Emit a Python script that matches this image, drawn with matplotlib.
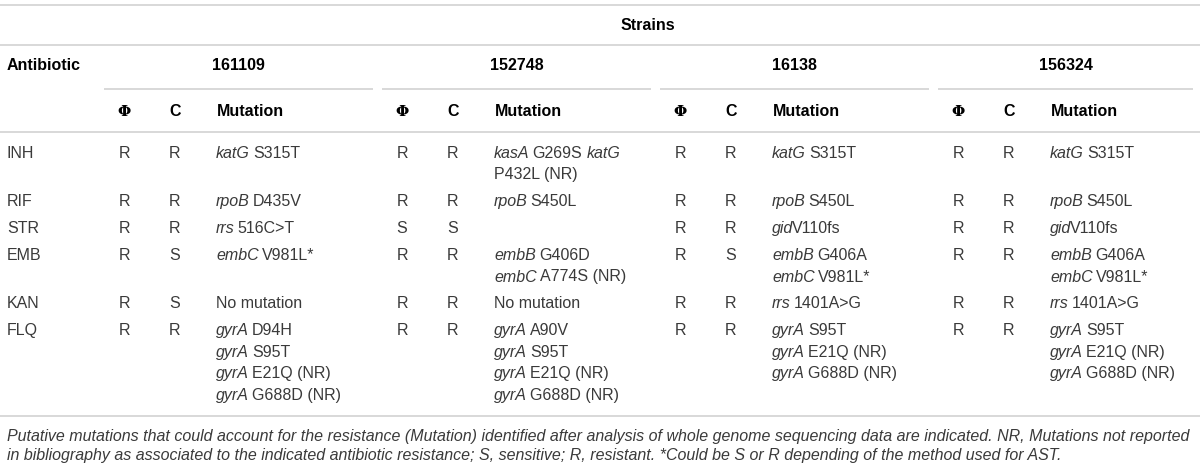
import matplotlib.pyplot as plt

# 표 데이터
antibiotics = ["INH", "RIF", "STR", "EMB", "KAN", "FLQ"]
strains = ["161109", "152748", "16138", "156324"]

phi = {
    "161109": ["R", "R", "R", "R", "R", "R"],
    "152748": ["R", "R", "S", "R", "R", "R"],
    "16138": ["R", "R", "R", "R", "R", "R"],
    "156324": ["R", "R", "R", "R", "R", "R"],
}
conv = {
    "161109": ["R", "R", "R", "S", "S", "R"],
    "152748": ["R", "R", "S", "R", "R", "R"],
    "16138": ["R", "R", "R", "S", "R", "R"],
    "156324": ["R", "R", "R", "R", "R", "R"],
}
# _..._ = 이탤릭 (유전자명)
mutations = {
    "161109": [["_katG_ S315T"], ["_rpoB_ D435V"], ["_rrs_ 516C>T"], ["_embC_ V981L*"],
               ["No mutation"],
               ["_gyrA_ D94H", "_gyrA_ S95T", "_gyrA_ E21Q (NR)", "_gyrA_ G688D (NR)"]],
    "152748": [["_kasA_ G269S _katG_", "P432L (NR)"], ["_rpoB_ S450L"], [""],
               ["_embB_ G406D", "_embC_ A774S (NR)"], ["No mutation"],
               ["_gyrA_ A90V", "_gyrA_ S95T", "_gyrA_ E21Q (NR)", "_gyrA_ G688D (NR)"]],
    "16138": [["_katG_ S315T"], ["_rpoB_ S450L"], ["_gid_V110fs"],
              ["_embB_ G406A", "_embC_ V981L*"], ["_rrs_ 1401A>G"],
              ["_gyrA_ S95T", "_gyrA_ E21Q (NR)", "_gyrA_ G688D (NR)"]],
    "156324": [["_katG_ S315T"], ["_rpoB_ S450L"], ["_gid_V110fs"],
               ["_embB_ G406A", "_embC_ V981L*"], ["_rrs_ 1401A>G"],
               ["_gyrA_ S95T", "_gyrA_ E21Q (NR)", "_gyrA_ G688D (NR)"]],
}
footnote = [
    "Putative mutations that could account for the resistance (Mutation) identified after analysis of whole genome sequencing data are indicated. NR, Mutations not reported",
    "in bibliography as associated to the indicated antibiotic resistance; S, sensitive; R, resistant. *Could be S or R depending of the method used for AST.",
]

# 레이아웃
W, H = 1200, 469
FONT = "Liberation Sans"
FS = 11.5
TXT = "#3a3a3a"
LINE = "#d2d2d2"
group_x = [(104, 373), (382, 651), (660, 929), (938, 1193)]

fig = plt.figure(figsize=(W / 100, H / 100), dpi=100)
ax = fig.add_axes([0, 0, 1, 1])
ax.set_xlim(0, W)
ax.set_ylim(H, 0)
ax.axis("off")
renderer = fig.canvas.get_renderer()


def hline(x0, x1, y):
    ax.plot([x0, x1], [y, y], color=LINE, lw=1.2, solid_capstyle="butt")


def text_width(s, style):
    # 앞뒤에 기준 문자를 붙여 여백 없이 폭 측정
    t1 = ax.text(0, 0, "x" + s + "x", fontsize=FS, family=FONT, style=style)
    t2 = ax.text(0, 0, "xx", fontsize=FS, family=FONT, style=style)
    w = t1.get_window_extent(renderer).width - t2.get_window_extent(renderer).width
    t1.remove()
    t2.remove()
    return w


space_w = text_width(" ", "normal")


def rich_text(x, y, s):
    parts = s.split("_")
    for i, part in enumerate(parts):
        if not part:
            continue
        style = "italic" if i % 2 == 1 else "normal"
        lead = len(part) - len(part.lstrip(" "))
        x += lead * space_w
        core = part.strip(" ")
        if core:
            ax.text(x, y, core, fontsize=FS, family=FONT, style=style,
                    color=TXT, va="center", ha="left")
            x += text_width(core, style)
            if style == "italic":
                x -= 1.5
        trail = len(part) - len(part.rstrip(" "))
        x += trail * space_w


# 헤더
hline(0, W, 5)
ax.text(648, 25, "Strains", fontsize=FS, family=FONT, weight="bold",
        color="black", ha="center", va="center")
hline(0, W, 45)
ax.text(7, 66, "Antibiotic", fontsize=FS, family=FONT, weight="bold",
        color="black", ha="left", va="center")
for (x0, x1), s in zip(group_x, strains):
    ax.text((x0 + x1) / 2, 66, s, fontsize=FS, family=FONT, weight="bold",
            color="black", ha="center", va="center")
    hline(x0, x1, 89)
    ax.text(x0 + 20, 112, "Φ", fontsize=FS - 0.5, family="DejaVu Serif", weight="bold",
            color="black", ha="center", va="center")
    ax.text(x0 + 71, 112, "C", fontsize=FS, family=FONT, weight="bold",
            color="black", ha="center", va="center")
    ax.text(x0 + 113, 112, "Mutation", fontsize=FS, family=FONT, weight="bold",
            color="black", ha="left", va="center")
hline(0, W, 132)

# 본문
line_h = 21.5
row_pad = 5.4
y = 153.3
for r, ab in enumerate(antibiotics):
    n_lines = max(len(mutations[s][r]) for s in strains)
    ax.text(7, y, ab, fontsize=FS, family=FONT, color=TXT, ha="left", va="center")
    for (x0, x1), s in zip(group_x, strains):
        ax.text(x0 + 20, y, phi[s][r], fontsize=FS, family=FONT, color=TXT,
                ha="center", va="center")
        ax.text(x0 + 71, y, conv[s][r], fontsize=FS, family=FONT, color=TXT,
                ha="center", va="center")
        for k, line in enumerate(mutations[s][r]):
            rich_text(x0 + 112, y + k * line_h, line)
    y += n_lines * line_h + row_pad

hline(0, W, 416)
for k, line in enumerate(footnote):
    ax.text(7, 436 + k * 19.5, line, fontsize=FS, family=FONT, style="italic",
            color=TXT, ha="left", va="center")

fig.savefig("out.png", dpi=100, facecolor="white")
plt.close(fig)
